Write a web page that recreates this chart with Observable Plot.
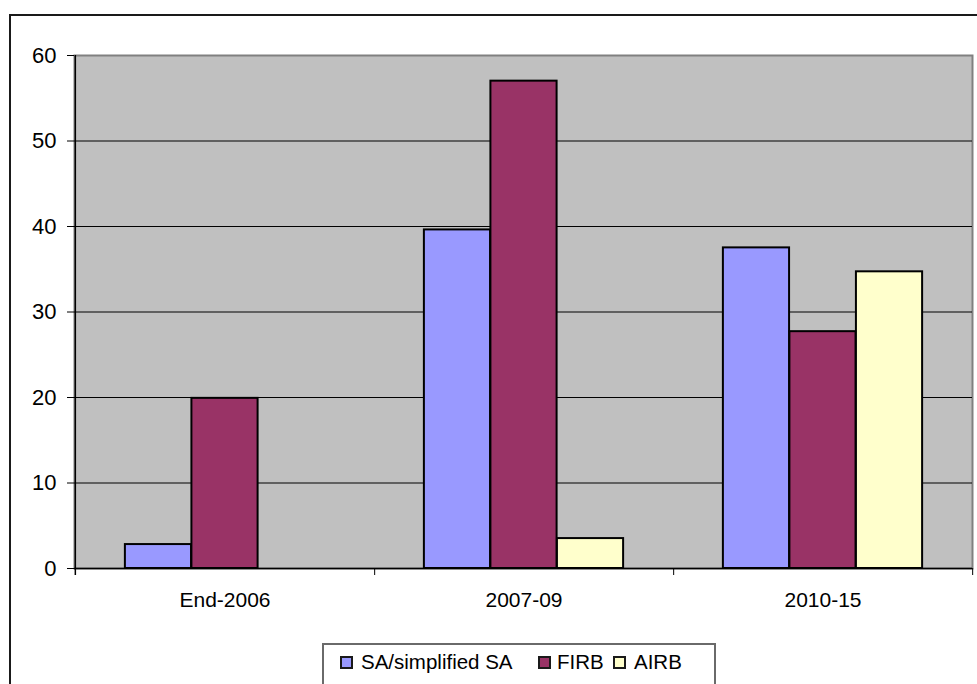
<!DOCTYPE html>
<html>
<head>
<meta charset="utf-8">
<script src="https://cdn.jsdelivr.net/npm/d3@7"></script>
<script src="https://cdn.jsdelivr.net/npm/@observablehq/plot@0.6"></script>
<style>
  body { margin: 0; background: #fff; font-family: "Liberation Sans", Arial, sans-serif; }
  #page { position: relative; width: 977px; height: 684px; overflow: hidden; background: #fff; }
  #outer { position: absolute; left: 9px; top: 14px; width: 1200px; height: 1200px;
           border-left: 2px solid #1a1a1a; border-top: 2px solid #1a1a1a; box-sizing: border-box; }
  #chart { position: absolute; left: 0; top: 0; }
  #legend { position: absolute; left: 322px; top: 643px; width: 394px; height: 60px;
            border: 2px solid #6a6a6a; box-sizing: border-box; background: #fff; }
  #legend .sw { position: absolute; top: 11px; width: 13px; height: 13px; box-sizing: border-box;
                border: 2px solid #1a1a1a; }
  #legend .lb { position: absolute; top: 6px; font-size: 20.5px; line-height: 21px; color: #000; white-space: nowrap; }
</style>
</head>
<body>
<div id="page">
  <div id="outer"></div>
  <div id="chart"></div>
  <div id="legend"></div>
</div>
<script>
// Share of banks by credit-risk approach, per implementation period
const categories = ["End-2006", "2007-09", "2010-15"];
const series = ["SA/simplified SA", "FIRB", "AIRB"];
const saValues = [2.8, 39.6, 37.5];
const firbValues = [19.9, 57.0, 27.7];
const airbValues = [null, 3.5, 34.7];
const seriesColors = ["#9999FF", "#993366", "#FFFFCC"];
const yTicks = [0, 10, 20, 30, 40, 50, 60];

// legend layout: swatch and label offsets inside the legend box
const legendSwatchLeft = [16, 214, 289];
const legendLabelLeft = [37, 233, 310];

const W = 977, H = 630;
const margin = {top: 55, right: 5, bottom: 62, left: 74};
const band = (W - margin.left - margin.right) / categories.length;
const barW = band * 2 / 9;

const valuesBySeries = [saValues, firbValues, airbValues];
const rows = series.flatMap((s, i) =>
  categories.map((c, j) => ({category: c, series: s, value: valuesBySeries[i][j]}))
).filter(d => d.value != null);

// one bar mark per series, side by side within each period band
const barMarks = series.map((s, i) => Plot.barY(rows.filter(d => d.series === s), {
  x: "category",
  y: "value",
  fill: seriesColors[i],
  stroke: "#000",
  strokeWidth: 2,
  insetLeft: (band - barW) / 2,
  insetRight: (band - barW) / 2,
  dx: (i - 1) * barW
}));

const chart = Plot.plot({
  width: W,
  height: H,
  marginTop: margin.top,
  marginRight: margin.right,
  marginBottom: margin.bottom,
  marginLeft: margin.left,
  style: {background: "transparent", color: "#000", fontFamily: "'Liberation Sans', Arial, sans-serif", fontSize: "21px"},
  x: {domain: categories, padding: 0, label: null},
  y: {domain: [0, 60], label: null},
  marks: [
    Plot.frame({fill: "#C0C0C0", stroke: "#808080", strokeWidth: 2}),
    Plot.ruleY(yTicks.filter(t => t > 0 && t < 60), {stroke: "#000", strokeWidth: 1}),
    // left axis line with its category boundary tick
    Plot.ruleX([categories[0]], {dx: -band / 2, stroke: "#000", strokeWidth: 1.5, insetBottom: -7}),
    // category boundary ticks below the baseline
    Plot.ruleX(categories, {dx: band / 2, y1: 0, y2: 0, insetBottom: -7, stroke: "#000", strokeWidth: 1}),
    ...barMarks,
    Plot.ruleY([0], {stroke: "#000", strokeWidth: 1.5}),
    Plot.axisY({ticks: yTicks, tickSize: 7, tickPadding: 11, label: null, fontSize: 22}),
    Plot.axisX({tickSize: 0, tickPadding: 24, label: null, fontSize: 21})
  ]
});
document.getElementById("chart").append(chart);

// legend below the plot
const legend = document.getElementById("legend");
series.forEach((s, i) => {
  const sw = document.createElement("div");
  sw.className = "sw";
  sw.style.left = legendSwatchLeft[i] + "px";
  sw.style.background = seriesColors[i];
  legend.append(sw);
  const lb = document.createElement("div");
  lb.className = "lb";
  lb.style.left = legendLabelLeft[i] + "px";
  lb.textContent = s;
  legend.append(lb);
});
</script>
</body>
</html>
